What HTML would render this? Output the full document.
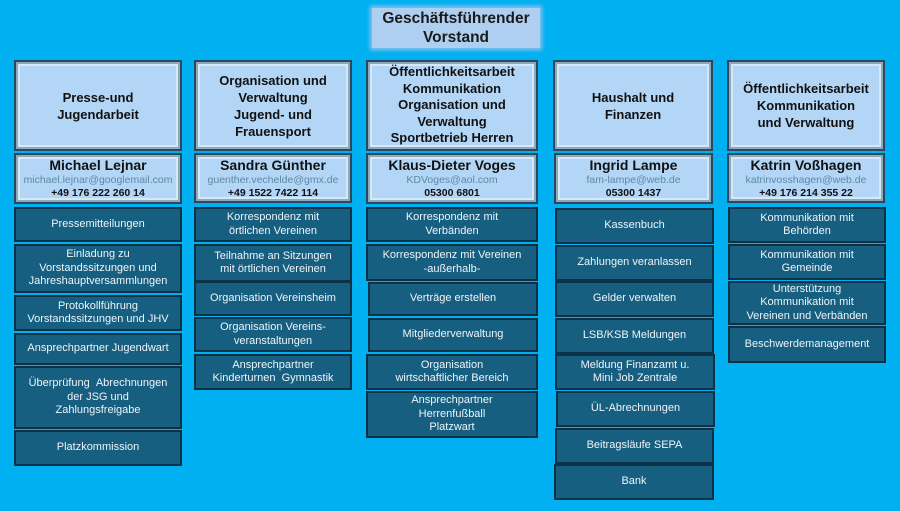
<!DOCTYPE html>
<html><head><meta charset="utf-8"><style>
*{margin:0;padding:0;box-sizing:border-box}
body{width:900px;height:511px;background:#00b0f0;position:relative;overflow:hidden;font-family:"Liberation Sans",sans-serif}
.b{position:absolute;display:flex;flex-direction:column;align-items:center;justify-content:center;text-align:center}
.h{background:#b3d6f6;border:2px solid #274a5e;box-shadow:inset 0 0 0 2px #8ea8bd,inset 0 0 0 4px #d6e8f8;font-weight:bold;font-size:13px;line-height:17px;color:#111}
.p{background:#b3d6f6;border:2px solid #274a5e;box-shadow:inset 0 0 0 2px #8ea8bd,inset 0 0 0 4px #d6e8f8;color:#111;line-height:13px}
.p .n{font-weight:bold;font-size:14px;line-height:17px}
.p .e{font-size:10.5px;color:#5b8aa3}
.p .t{font-size:10.5px;font-weight:bold}
.i{background:#175f80;border:2px solid #0b3246;color:#eef4f8;font-size:11px;line-height:13.5px}
.title{position:absolute;left:372px;top:8px;width:168px;height:40px;background:#aecff0;box-shadow:0 0 4px 2px #8fc3ee;font-weight:bold;font-size:15.5px;line-height:19px;text-align:center;color:#1a1a1a;padding-top:1px}
</style></head><body>
<div class="title">Geschäftsführender<br>Vorstand</div>

<!-- col1 -->
<div class="b h" style="left:14px;top:60px;width:168px;height:91px">Presse-und<br>Jugendarbeit</div>
<div class="b p" style="left:14px;top:153px;width:168px;height:51px"><div class="n">Michael Lejnar</div><div class="e">michael.lejnar@googlemail.com</div><div class="t">+49 176 222 260 14</div></div>
<div class="b i" style="left:14px;top:207px;width:168px;height:35px">Pressemitteilungen</div>
<div class="b i" style="left:14px;top:244px;width:168px;height:49px">Einladung zu<br>Vorstandssitzungen und<br>Jahreshauptversammlungen</div>
<div class="b i" style="left:14px;top:295px;width:168px;height:36px">Protokollführung<br>Vorstandssitzungen und JHV</div>
<div class="b i" style="left:14px;top:333px;width:168px;height:32px">Ansprechpartner Jugendwart</div>
<div class="b i" style="left:14px;top:366px;width:168px;height:63px">Überprüfung &nbsp;Abrechnungen<br>der JSG und<br>Zahlungsfreigabe</div>
<div class="b i" style="left:14px;top:430px;width:168px;height:36px">Platzkommission</div>

<!-- col2 -->
<div class="b h" style="left:194px;top:60px;width:158px;height:91px">Organisation und<br>Verwaltung<br>Jugend- und<br>Frauensport</div>
<div class="b p" style="left:194px;top:153px;width:158px;height:50px"><div class="n">Sandra Günther</div><div class="e">guenther.vechelde@gmx.de</div><div class="t">+49 1522 7422 114</div></div>
<div class="b i" style="left:194px;top:207px;width:158px;height:35px">Korrespondenz mit<br>örtlichen Vereinen</div>
<div class="b i" style="left:194px;top:244px;width:158px;height:38px">Teilnahme an Sitzungen<br>mit örtlichen Vereinen</div>
<div class="b i" style="left:194px;top:281px;width:158px;height:35px">Organisation Vereinsheim</div>
<div class="b i" style="left:194px;top:317px;width:158px;height:35px">Organisation Vereins-<br>veranstaltungen</div>
<div class="b i" style="left:194px;top:354px;width:158px;height:36px">Ansprechpartner<br>Kinderturnen &nbsp;Gymnastik</div>

<!-- col3 -->
<div class="b h" style="left:366px;top:60px;width:172px;height:91px;line-height:16.5px">Öffentlichkeitsarbeit<br>Kommunikation<br>Organisation und<br>Verwaltung<br>Sportbetrieb Herren</div>
<div class="b p" style="left:366px;top:153px;width:172px;height:51px"><div class="n">Klaus-Dieter Voges</div><div class="e">KDVoges@aol.com</div><div class="t">05300 6801</div></div>
<div class="b i" style="left:366px;top:207px;width:172px;height:35px">Korrespondenz mit<br>Verbänden</div>
<div class="b i" style="left:366px;top:244px;width:172px;height:37px">Korrespondenz mit Vereinen<br>-außerhalb-</div>
<div class="b i" style="left:368px;top:282px;width:170px;height:34px">Verträge erstellen</div>
<div class="b i" style="left:368px;top:318px;width:170px;height:34px">Mitgliederverwaltung</div>
<div class="b i" style="left:366px;top:354px;width:172px;height:36px">Organisation<br>wirtschaftlicher Bereich</div>
<div class="b i" style="left:366px;top:391px;width:172px;height:47px">Ansprechpartner<br>Herrenfußball<br>Platzwart</div>

<!-- col4 -->
<div class="b h" style="left:553px;top:60px;width:160px;height:91px">Haushalt und<br>Finanzen</div>
<div class="b p" style="left:554px;top:153px;width:159px;height:51px"><div class="n">Ingrid Lampe</div><div class="e">fam-lampe@web.de</div><div class="t">05300 1437</div></div>
<div class="b i" style="left:555px;top:208px;width:159px;height:36px">Kassenbuch</div>
<div class="b i" style="left:555px;top:245px;width:159px;height:36px">Zahlungen veranlassen</div>
<div class="b i" style="left:555px;top:281px;width:159px;height:36px">Gelder verwalten</div>
<div class="b i" style="left:555px;top:318px;width:159px;height:36px">LSB/KSB Meldungen</div>
<div class="b i" style="left:555px;top:354px;width:160px;height:36px">Meldung Finanzamt u.<br>Mini Job Zentrale</div>
<div class="b i" style="left:556px;top:391px;width:159px;height:36px">ÜL-Abrechnungen</div>
<div class="b i" style="left:555px;top:428px;width:159px;height:36px">Beitragsläufe SEPA</div>
<div class="b i" style="left:554px;top:464px;width:160px;height:36px">Bank</div>

<!-- col5 -->
<div class="b h" style="left:727px;top:60px;width:158px;height:91px">Öffentlichkeitsarbeit<br>Kommunikation<br>und Verwaltung</div>
<div class="b p" style="left:727px;top:153px;width:158px;height:50px"><div class="n">Katrin Voßhagen</div><div class="e">katrinvosshagen@web.de</div><div class="t">+49 176 214 355 22</div></div>
<div class="b i" style="left:728px;top:207px;width:158px;height:36px">Kommunikation mit<br>Behörden</div>
<div class="b i" style="left:728px;top:244px;width:158px;height:36px">Kommunikation mit<br>Gemeinde</div>
<div class="b i" style="left:728px;top:281px;width:158px;height:44px">Unterstützung<br>Kommunikation mit<br>Vereinen und Verbänden</div>
<div class="b i" style="left:728px;top:326px;width:158px;height:37px">Beschwerdemanagement</div>
</body></html>
